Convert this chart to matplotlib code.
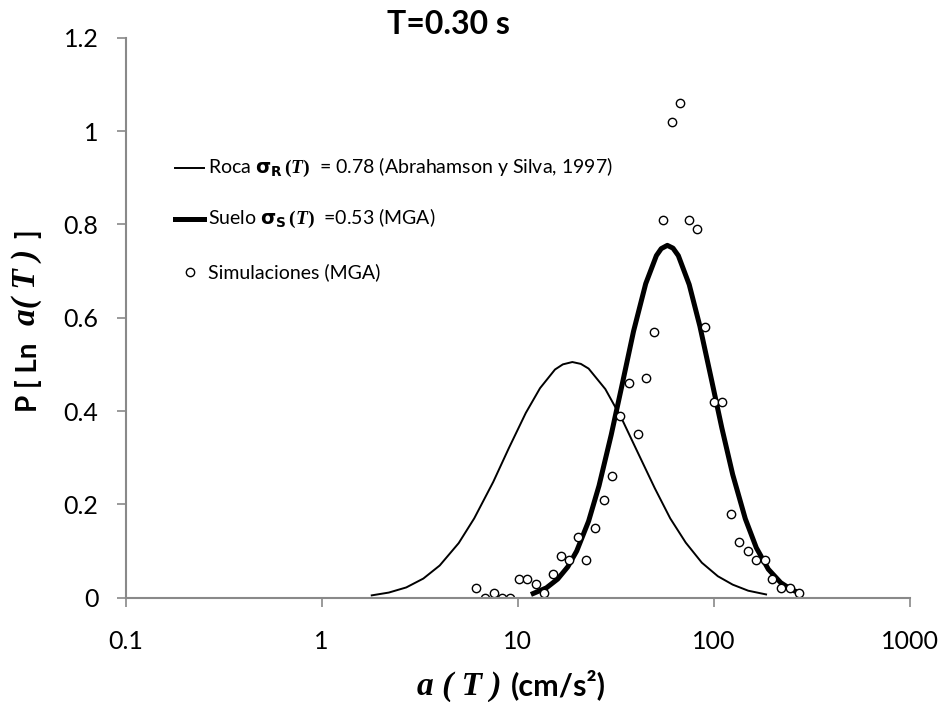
import matplotlib
matplotlib.use("Agg")
import matplotlib.pyplot as plt

# curva roca (sigma = 0.78)
roca_x = [1.8, 2.2, 2.7, 3.3, 4, 5, 6, 7.5, 9, 11, 13, 15.5, 17, 19, 21, 23, 28,
          34, 41, 50, 60, 72, 87, 105, 125, 150, 185]
roca_y = [0.005, 0.011, 0.022, 0.041, 0.069, 0.117, 0.170, 0.248, 0.320, 0.396,
          0.449, 0.489, 0.500, 0.505, 0.501, 0.491, 0.447, 0.383, 0.311, 0.235,
          0.170, 0.118, 0.075, 0.046, 0.028, 0.015, 0.007]

# curva suelo (sigma = 0.53)
suelo_x = [12, 14, 16, 18, 20, 23, 26, 30, 34, 39, 45, 51, 54, 58, 62, 66, 75,
           85, 97, 110, 125, 145, 165, 190, 220, 250, 275]
suelo_y = [0.009, 0.021, 0.040, 0.066, 0.100, 0.164, 0.240, 0.349, 0.454, 0.571,
           0.673, 0.733, 0.748, 0.755, 0.749, 0.733, 0.671, 0.582, 0.471, 0.364,
           0.264, 0.169, 0.107, 0.061, 0.032, 0.017, 0.010]

# simulaciones MGA
sim_x = [6.15, 6.84, 7.57, 8.3, 9.17, 10.1, 11.2, 12.4, 13.7, 15.1, 16.7, 18.3,
         20.4, 22.4, 24.9, 27.5, 30.4, 33.4, 37.0, 40.9, 45.4, 49.8, 55.1, 61.0,
         67.4, 74.5, 82.4, 90.8, 99.8, 110.4, 122.6, 134.7, 149, 165, 182, 199.5,
         221, 246, 273]
sim_y = [0.02, 0.0, 0.01, 0.0, 0.0, 0.04, 0.04, 0.03, 0.01, 0.05, 0.09, 0.08,
         0.13, 0.08, 0.15, 0.21, 0.26, 0.39, 0.46, 0.35, 0.47, 0.57, 0.81, 1.02,
         1.06, 0.81, 0.79, 0.58, 0.42, 0.42, 0.18, 0.12, 0.10, 0.08, 0.08, 0.04,
         0.02, 0.02, 0.01]

x_ticks = [0.1, 1, 10, 100, 1000]
x_labels = ["0.1", "1", "10", "100", "1000"]
y_ticks = [0, 0.2, 0.4, 0.6, 0.8, 1.0, 1.2]
y_labels = ["0", "0.2", "0.4", "0.6", "0.8", "1", "1.2"]

plt.rcParams["font.family"] = ["Lato", "DejaVu Sans"]
plt.rcParams["mathtext.fontset"] = "custom"
plt.rcParams["mathtext.rm"] = "Liberation Serif:bold"
plt.rcParams["mathtext.it"] = "Liberation Serif:italic:bold"
plt.rcParams["mathtext.bf"] = "DejaVu Sans:bold"

gray = "#898989"
W, H = 941, 702

fig = plt.figure(figsize=(9.41, 7.02), dpi=100)
ax = fig.add_axes([125.7 / W, 1 - 597.7 / H, 784 / W, 560 / H])

ax.plot(roca_x, roca_y, color="black", lw=1.4)
ax.plot(suelo_x, suelo_y, color="black", lw=3.6)
ax.plot(sim_x, sim_y, linestyle="none", marker="o", ms=6, mfc="white",
        mec="black", mew=1.0)

ax.set_xscale("log")
ax.set_xlim(0.1, 1000)
ax.set_ylim(0, 1.2)
ax.set_xticks(x_ticks)
ax.set_xticklabels(x_labels)
ax.set_yticks(y_ticks)
ax.set_yticklabels(y_labels)
ax.minorticks_off()
ax.tick_params(axis="both", labelsize=18, color=gray, length=6.5, width=1.2,
               direction="out")
ax.tick_params(axis="x", pad=17)
ax.tick_params(axis="y", pad=13)

for side in ["top", "right"]:
    ax.spines[side].set_visible(False)
for side in ["left", "bottom"]:
    ax.spines[side].set_color(gray)
    ax.spines[side].set_linewidth(1.5)

# etiqueta eje x
fig.text(417 / W, 1 - 695 / H, "a ( T )", family="Liberation Serif",
         style="italic", weight="bold", fontsize=24, ha="left", va="baseline")
fig.text(511 / W, 1 - 695 / H, "(cm/s²)", weight="bold", fontsize=22,
         ha="left", va="baseline")

# etiqueta eje y
fig.text(28 / W, 1 - 377 / H, "P [ Ln", weight="bold", fontsize=20,
         rotation=90, ha="center", va="center")
fig.text(27 / W, 1 - 287 / H, "a( T )", family="Liberation Serif",
         style="italic", weight="bold", fontsize=24, rotation=90,
         ha="center", va="center")
fig.text(28 / W, 1 - 234 / H, "]", weight="bold", fontsize=20,
         rotation=90, ha="center", va="center")

fig.text(448 / W, 1 - 24 / H, "T=0.30 s", fontsize=23, fontweight="bold",
         ha="center", va="center")

# leyenda manual (coordenadas de ejes)
ax.plot([0.0629, 0.0999], [0.921 / 1.2, 0.921 / 1.2], color="black", lw=1.4,
        transform=ax.transAxes)
ax.plot([0.0629, 0.0999], [0.812 / 1.2, 0.812 / 1.2], color="black", lw=3.6,
        transform=ax.transAxes)
ax.plot([0.082], [0.698 / 1.2], linestyle="none", marker="o", ms=6,
        mfc="white", mec="black", mew=1.0, transform=ax.transAxes)
ax.text(0.105, 0.921 / 1.2,
        r"Roca $\mathbf{\sigma_R}\,(T)$  = 0.78 (Abrahamson y Silva, 1997)",
        fontsize=14, va="center", transform=ax.transAxes)
ax.text(0.105, 0.812 / 1.2,
        r"Suelo $\mathbf{\sigma_S}\,(T)$  =0.53 (MGA)",
        fontsize=14, va="center", transform=ax.transAxes)
ax.text(0.105, 0.698 / 1.2, "Simulaciones (MGA)",
        fontsize=14, va="center", transform=ax.transAxes)

fig.savefig("out.png", dpi=100)
